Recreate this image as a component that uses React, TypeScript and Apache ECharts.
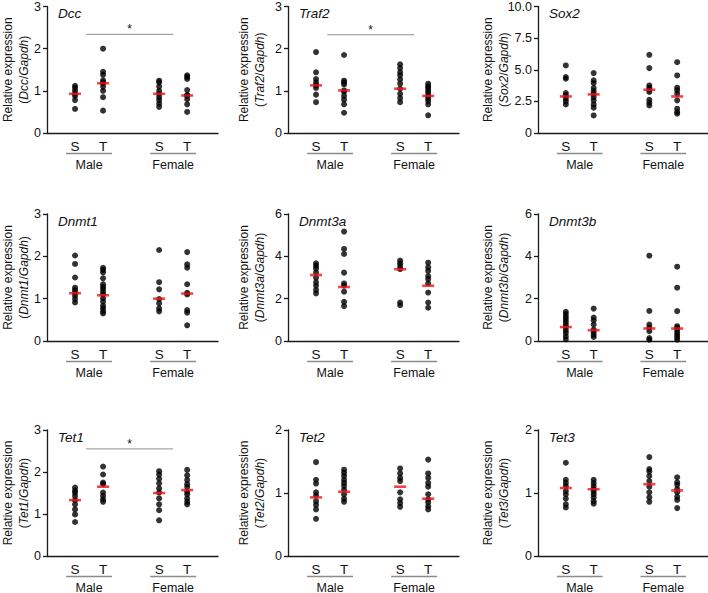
import React, { useEffect, useRef } from "react";
import * as echarts from "echarts";

// Group positions on the x value axis and their tick labels
const X_POS = [1, 2, 4, 5];
const X_LABELS = ["S", "T", "S", "T"];
const SEX_LABELS = ["Male", "Female"];
const SEX_CENTER = [1.5, 4.5];
const SEX_SPAN = [[0.68, 2.32], [3.68, 5.32]];

// Each array: [Male S, Male T, Female S, Female T]
const dcc = [
  [1.12, 1.07, 1.0, 0.93, 0.88, 0.78, 0.57],
  [2.0, 1.45, 1.38, 1.25, 1.2, 1.18, 1.1, 1.0, 0.85, 0.53],
  [1.24, 1.2, 1.1, 1.0, 0.93, 0.85, 0.78, 0.7, 0.62],
  [1.37, 1.33, 1.28, 1.02, 0.9, 0.89, 0.88, 0.8, 0.68, 0.5],
];
const dccMid = [0.93, 1.18, 0.93, 0.89];

const traf2 = [
  [1.92, 1.44, 1.28, 1.2, 1.13, 1.07, 0.91, 0.73],
  [1.85, 1.24, 1.2, 1.15, 1.01, 0.98, 0.88, 0.79, 0.68, 0.48],
  [1.63, 1.54, 1.44, 1.37, 1.27, 1.17, 1.05, 0.93, 0.83, 0.73],
  [1.17, 1.11, 1.07, 1.01, 0.95, 0.88, 0.82, 0.76, 0.68, 0.42],
];
const traf2Mid = [1.13, 1.01, 1.05, 0.88];

const sox2 = [
  [5.34, 4.42, 4.29, 3.16, 2.97, 2.71, 2.5, 2.26],
  [4.74, 4.16, 3.95, 3.55, 3.32, 3.1, 2.84, 2.58, 2.26, 2.0, 1.39],
  [6.18, 5.13, 3.76, 3.58, 3.42, 3.24, 2.63, 2.39, 2.18],
  [5.6, 4.55, 3.58, 3.37, 3.1, 2.58, 1.92, 1.66, 1.53],
];
const sox2Mid = [2.89, 3.05, 3.42, 2.89];

const dnmt1 = [
  [2.02, 1.82, 1.5, 1.26, 1.2, 1.14, 1.07, 0.99, 0.91],
  [1.73, 1.68, 1.62, 1.48, 1.34, 1.28, 1.23, 1.16, 1.1, 1.01, 0.93, 0.83, 0.77, 0.7, 0.65],
  [2.15, 1.39, 1.22, 0.99, 0.89, 0.77, 0.7],
  [2.1, 1.81, 1.73, 1.34, 1.14, 1.1, 0.73, 0.67, 0.37],
];
const dnmt1Mid = [1.13, 1.08, 1.0, 1.12];

const dnmt3a = [
  [3.67, 3.56, 3.43, 3.24, 2.99, 2.77, 2.61, 2.41, 2.25],
  [5.17, 4.35, 4.11, 3.23, 2.72, 2.61, 2.33, 1.85, 1.65],
  [3.8, 3.67, 3.54, 3.4, 1.82, 1.69],
  [3.7, 3.48, 3.31, 3.07, 2.93, 2.72, 2.29, 1.82, 1.57],
];
const dnmt3aMid = [3.12, 2.55, 3.39, 2.61];

const dnmt3b = [
  [1.38, 1.27, 1.14, 1.03, 0.9, 0.78, 0.66, 0.51, 0.38, 0.22, 0.08],
  [1.53, 1.11, 0.98, 0.78, 0.54, 0.43, 0.3, 0.19],
  [4.03, 1.42, 0.78, 0.63, 0.46, 0.14, 0.06],
  [3.51, 2.52, 1.41, 0.7, 0.62, 0.51, 0.38, 0.27, 0.16, 0.06],
];
const dnmt3bMid = [0.66, 0.51, 0.59, 0.59];

const tet1 = [
  [1.63, 1.56, 1.51, 1.43, 1.33, 1.23, 1.11, 0.99, 0.81],
  [2.13, 1.94, 1.75, 1.71, 1.51, 1.43, 1.35, 1.29],
  [2.02, 1.94, 1.84, 1.73, 1.61, 1.51, 1.37, 1.23, 1.09, 0.85],
  [2.05, 1.92, 1.81, 1.71, 1.64, 1.53, 1.47, 1.37, 1.29, 1.23],
];
const tet1Mid = [1.33, 1.65, 1.5, 1.57];

const tet2 = [
  [1.49, 1.21, 1.15, 1.01, 0.96, 0.87, 0.81, 0.74, 0.59],
  [1.37, 1.32, 1.27, 1.21, 1.16, 1.11, 1.05, 0.98, 0.91, 0.86],
  [1.39, 1.31, 1.24, 1.19, 1.01, 0.9, 0.84, 0.78],
  [1.53, 1.31, 1.24, 1.16, 1.1, 0.98, 0.9, 0.85, 0.79, 0.74],
];
const tet2Mid = [0.93, 1.02, 1.1, 0.91];

const tet3 = [
  [1.48, 1.21, 1.16, 1.11, 1.03, 0.98, 0.91, 0.82, 0.77],
  [1.21, 1.16, 1.11, 1.06, 1.02, 0.98, 0.93, 0.87, 0.83],
  [1.57, 1.38, 1.34, 1.27, 1.19, 1.1, 1.01, 0.93, 0.86],
  [1.25, 1.17, 1.13, 1.06, 1.01, 0.94, 0.89, 0.76],
];
const tet3Mid = [1.08, 1.06, 1.14, 1.04];

const PANELS = [
  { gene: "Dcc", data: dcc, mid: dccMid, yMax: 3, step: 1, sig: 2.34 },
  { gene: "Traf2", data: traf2, mid: traf2Mid, yMax: 3, step: 1, sig: 2.33 },
  { gene: "Sox2", data: sox2, mid: sox2Mid, yMax: 10, step: 2.5, sig: null, decimals: true },
  { gene: "Dnmt1", data: dnmt1, mid: dnmt1Mid, yMax: 3, step: 1, sig: null },
  { gene: "Dnmt3a", data: dnmt3a, mid: dnmt3aMid, yMax: 6, step: 2, sig: null },
  { gene: "Dnmt3b", data: dnmt3b, mid: dnmt3bMid, yMax: 6, step: 2, sig: null },
  { gene: "Tet1", data: tet1, mid: tet1Mid, yMax: 3, step: 1, sig: 2.55 },
  { gene: "Tet2", data: tet2, mid: tet2Mid, yMax: 2, step: 1, sig: null },
  { gene: "Tet3", data: tet3, mid: tet3Mid, yMax: 2, step: 1, sig: null },
];

// Layout
const COL_X = [47, 288, 538];
const COL_NAME_GAP = [31, 36, 42];
const ROW_Y = [6, 214, 430];
const ROW_H = [127, 127, 126];
const GRID_W = 171;
const X_MAX = 6.1;
const FONT = "'Liberation Sans', Arial, Helvetica, sans-serif";
const AXIS_COLOR = "#1a1a1a";
const GRAY = "#8c8c8c";
const RED = "#f0141a";

export default function App() {
  const ref = useRef<HTMLDivElement>(null);

  useEffect(() => {
    if (!ref.current) return;
    const chart = echarts.init(ref.current, undefined, { renderer: "svg" });

    const grid: any[] = [];
    const xAxis: any[] = [];
    const yAxis: any[] = [];
    const series: any[] = [];

    PANELS.forEach((p, i) => {
      const c = i % 3;
      const r = Math.floor(i / 3);
      grid.push({ left: COL_X[c], top: ROW_Y[r], width: GRID_W, height: ROW_H[r] });
      xAxis.push({
        type: "value",
        gridIndex: i,
        min: 0,
        max: X_MAX,
        interval: 1,
        axisLine: { show: true, lineStyle: { color: AXIS_COLOR, width: 1.3 } },
        axisTick: { show: false },
        splitLine: { show: false },
        axisLabel: {
          fontSize: 13.5,
          fontFamily: FONT,
          color: "#111",
          margin: 6,
          showMinLabel: true,
          showMaxLabel: false,
          formatter: (v: number) => {
            const k = X_POS.indexOf(Math.round(v * 1000) / 1000);
            return k >= 0 ? X_LABELS[k] : "";
          },
        },
      });
      yAxis.push({
        type: "value",
        gridIndex: i,
        min: 0,
        max: p.yMax,
        interval: p.step,
        axisLine: { show: true, lineStyle: { color: AXIS_COLOR, width: 1.3 } },
        axisTick: { show: true, length: 4, lineStyle: { color: AXIS_COLOR, width: 1.3 } },
        splitLine: { show: false },
        axisLabel: {
          fontSize: 12.5,
          fontFamily: FONT,
          color: "#111",
          margin: 6,
          formatter: (v: number) => (v === 0 ? "0" : p.decimals ? v.toFixed(1) : String(v)),
        },
      });
      const pts: number[][] = [];
      p.data.forEach((vals, g) => vals.forEach((v) => pts.push([X_POS[g], v])));
      series.push({
        type: "scatter",
        xAxisIndex: i,
        yAxisIndex: i,
        data: pts,
        symbol: "circle",
        symbolSize: 6,
        itemStyle: { color: "#000" },
        z: 2,
        silent: true,
      });
      series.push({
        type: "scatter",
        xAxisIndex: i,
        yAxisIndex: i,
        data: p.mid.map((m, g) => [X_POS[g], m]),
        symbol: "rect",
        symbolSize: [12, 2.6],
        itemStyle: { color: RED },
        z: 3,
        silent: true,
      });
    });

    chart.setOption({
      animation: false,
      backgroundColor: "#fff",
      grid,
      xAxis,
      yAxis,
      series,
    });

    // Decorations placed through the grids' own coordinate conversion
    const graphic: any[] = [];
    PANELS.forEach((p, i) => {
      const c = i % 3;
      const px = (x: number, y: number) =>
        chart.convertToPixel({ gridIndex: i } as any, [x, y]) as number[];
      const origin = px(0, 0);
      const top = px(0, p.yMax);
      const baseY = origin[1];

      SEX_SPAN.forEach((span, g) => {
        const a = px(span[0], 0);
        const b = px(span[1], 0);
        graphic.push({
          type: "line",
          shape: { x1: a[0], y1: baseY + 20.5, x2: b[0], y2: baseY + 20.5 },
          style: { stroke: GRAY, lineWidth: 1.6 },
        });
        const m = px(SEX_CENTER[g], 0);
        graphic.push({
          type: "text",
          x: m[0],
          y: baseY + 31.5,
          style: {
            text: SEX_LABELS[g],
            fontSize: 12.5,
            fontFamily: FONT,
            fill: "#111",
            align: "center",
            verticalAlign: "middle",
          },
        });
      });

      graphic.push({
        type: "text",
        x: top[0] + 11,
        y: top[1] + 7,
        style: {
          text: p.gene,
          fontSize: 13.5,
          fontStyle: "italic",
          fontFamily: FONT,
          fill: "#111",
          align: "left",
          verticalAlign: "middle",
        },
      });

      if (p.sig !== null) {
        const a = px(1.4, p.sig as number);
        const b = px(4.5, p.sig as number);
        const s = px(2.95, p.sig as number);
        graphic.push({
          type: "line",
          shape: { x1: a[0], y1: a[1], x2: b[0], y2: b[1] },
          style: { stroke: GRAY, lineWidth: 1 },
        });
        graphic.push({
          type: "text",
          x: s[0],
          y: s[1] - 5,
          style: {
            text: "*",
            fontSize: 12,
            fontFamily: FONT,
            fill: "#111",
            align: "center",
            verticalAlign: "middle",
          },
        });
      }

      graphic.push({
        type: "text",
        x: origin[0] - COL_NAME_GAP[c],
        y: (origin[1] + top[1]) / 2,
        rotation: Math.PI / 2,
        style: {
          text: "{n|Relative expression}\n{n|(}{i|" + p.gene + "}{n|/}{i|Gapdh}{n|)}",
          align: "center",
          verticalAlign: "middle",
          rich: {
            n: { fontSize: 12, fontFamily: FONT, fill: "#111", lineHeight: 16 },
            i: { fontSize: 12, fontFamily: FONT, fill: "#111", fontStyle: "italic", lineHeight: 16 },
          },
        },
      });
    });

    chart.setOption({ graphic });

    return () => chart.dispose();
  }, []);

  return (
    <div
      ref={ref}
      style={{ position: "absolute", left: 0, top: 0, width: 708, height: 593 }}
    />
  );
}
